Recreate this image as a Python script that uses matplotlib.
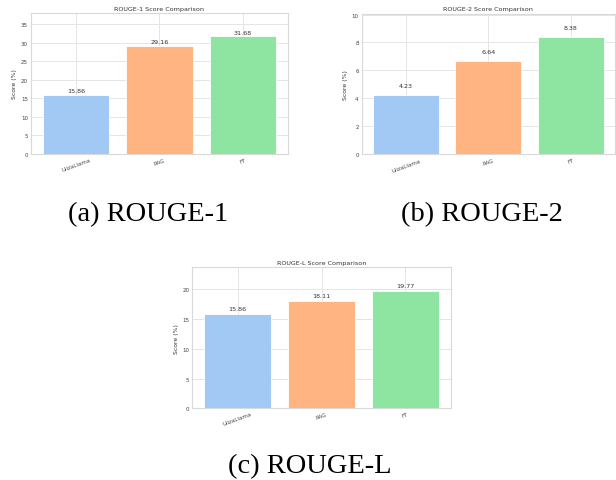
import numpy as np
import matplotlib
matplotlib.use("Agg")
import matplotlib.pyplot as plt
import seaborn as sns

models = ["UlizaLlama", "RAG", "FT"]
rouge1 = [15.86, 29.16, 31.68]
rouge2 = [4.23, 6.64, 8.38]
rougeL = [15.86, 18.11, 19.77]
titles = ["ROUGE-1 Score Comparison", "ROUGE-2 Score Comparison", "ROUGE-L Score Comparison"]
captions = ["(a) ROUGE-1", "(b) ROUGE-2", "(c) ROUGE-L"]

sns.set_style("whitegrid")
colors = sns.color_palette("pastel")[:3]

fig = plt.figure(figsize=(6.16, 4.81), dpi=100)

# axes rectangles picked to sit where the panels sit in the reference
rects = [
    [0.0503, 0.6778, 0.4172, 0.2931],
    [0.5872, 0.6771, 0.4112, 0.2923],
    [0.3122, 0.1491, 0.4195, 0.2931],
]
steps = [5, 2, 5]

for rect, vals, title, step in zip(rects, [rouge1, rouge2, rougeL], titles, steps):
    ax = fig.add_axes(rect)
    x = np.arange(len(models))
    bars = ax.bar(x, vals, color=colors, width=0.8, edgecolor="white", linewidth=0.6)
    for b, v in zip(bars, vals):
        ax.text(b.get_x() + b.get_width() / 2, v + 0.5, f"{v:.2f}",
                ha="center", va="bottom", fontsize=4.6, color="#333333")
    ax.set_ylim(0, max(vals) * 1.2)
    ax.set_yticks(np.arange(0, max(vals) * 1.2, step))
    ax.set_xticks(x)
    ax.set_xticklabels(models, rotation=20, ha="center")
    ax.tick_params(labelsize=4.0, pad=2.2, colors="#444444", length=0)
    ax.set_ylabel("Score (%)", fontsize=4.4, labelpad=2.5, color="#333333")
    ax.set_title(title, fontsize=4.6, pad=2.5, color="#333333")
    ax.grid(True, color="#e5e5e5", linewidth=0.7)
    ax.set_axisbelow(True)
    for s in ax.spines.values():
        s.set_color("#d9d9d9")
        s.set_linewidth(0.8)

cap_pos = [(148 / 616, 1 - 221 / 481), (482 / 616, 1 - 221 / 481), (310 / 616, 1 - 473 / 481)]
for (cx, cy), c in zip(cap_pos, captions):
    fig.text(cx, cy, c, ha="center", va="baseline", fontsize=20.5, family="Liberation Serif", color="black")

fig.savefig("out.png", dpi=100)
